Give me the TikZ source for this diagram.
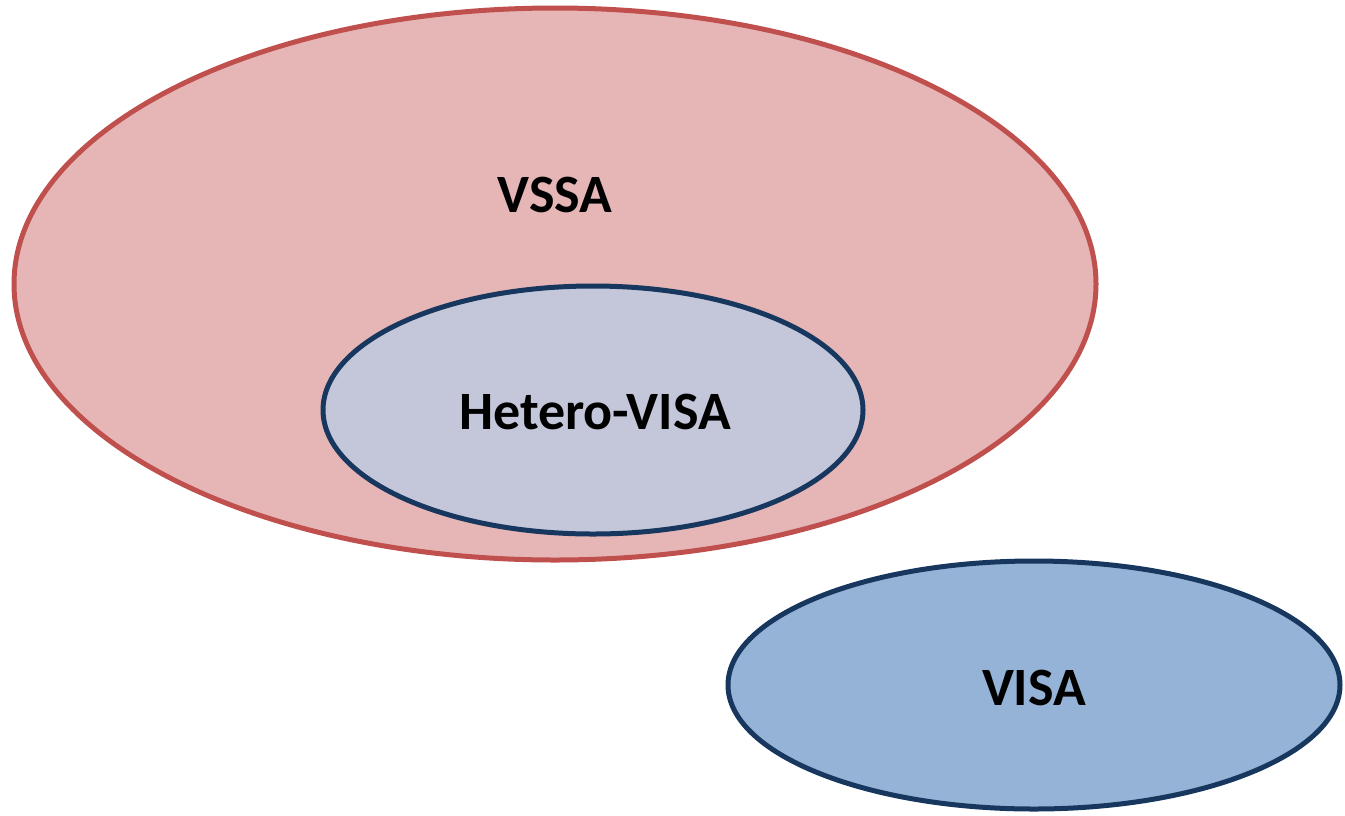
\documentclass[tikz,border=0pt]{standalone}
\usepackage{fontspec}
\setmainfont{Carlito}
\definecolor{redline}{HTML}{C0504D}
\definecolor{redfill}{HTML}{E6B6B7}
\definecolor{navyline}{HTML}{17375E}
\definecolor{lavfill}{HTML}{C4C6D9}
\definecolor{bluefill}{HTML}{95B3D7}
\begin{document}
\begin{tikzpicture}[x=1pt,y=-1pt,
  lbl/.style={font=\fontsize{54}{60}\selectfont\bfseries, anchor=base, inner sep=0pt},
  ring/.style={line width=5pt}]
\useasboundingbox (0,0) rectangle (1345,815);
\draw[ring, draw=redline, fill=redfill] (555,284) ellipse [x radius=541, y radius=276];
\draw[ring, draw=navyline, fill=lavfill] (593,410) ellipse [x radius=270, y radius=124];
\draw[ring, draw=navyline, fill=bluefill] (1034,685) ellipse [x radius=306, y radius=124];
\node[lbl] (vssa) at (555,212) {VSSA};
\node[lbl] (hetero) at (595,429) {Hetero-VISA};
\node[lbl] (visa) at (1034,705) {VISA};
\end{tikzpicture}
\end{document}
